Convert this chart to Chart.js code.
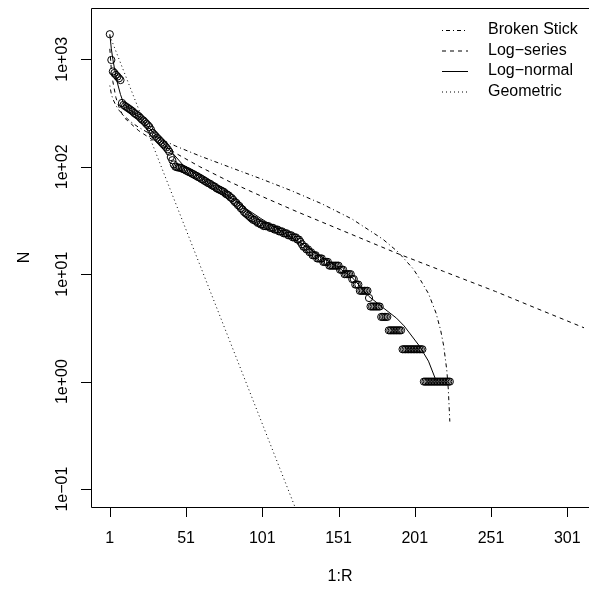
<!DOCTYPE html>
<html>
<head>
<meta charset="utf-8">
<script src="https://cdn.jsdelivr.net/npm/chart.js@4.4.1/dist/chart.umd.min.js"></script>
<style>
  html, body { margin: 0; padding: 0; background: #fff; }
</style>
</head>
<body>
<canvas id="radChart" width="589" height="591"></canvas>
<script>
// rank-abundance data
var xTicks = [1, 51, 101, 151, 201, 251, 301];
var yTicks = [0.1, 1, 10, 100, 1000];
var yTickLabels = ['1e\u221201', '1e+00', '1e+01', '1e+02', '1e+03'];

// observed abundance by rank (1..224)
var abundance = [
  1710, 985, 770, 745, 715, 690, 665, 640, 392, 376,
  367, 359, 351, 343, 335, 327, 316, 309, 302, 295,
  285, 275, 269, 260, 251, 243, 234, 221, 207, 200,
  193, 186, 180, 174, 168, 162, 157, 151, 145, 138,
  123, 115, 105, 100, 99, 98, 98, 97, 95, 94,
  92, 91, 89, 88, 86, 85, 83, 82, 80, 79,
  77, 76, 74, 73, 71, 70, 69, 67, 66, 65,
  63, 62, 61, 60, 59, 58, 56, 55, 54, 52,
  51, 49, 47, 46, 44, 43, 41, 40, 38, 37,
  36, 35, 34, 33, 32, 32, 31, 30, 30, 29,
  29, 28, 28, 28, 28, 27, 27, 27, 26, 26,
  26, 25, 25, 25, 24, 24, 24, 23, 23, 23,
  22, 22, 22, 21, 21, 20, 19, 18, 18, 17,
  17, 16, 16, 15, 15, 15, 14, 14, 14, 14,
  13, 13, 13, 13, 12, 12, 12, 12, 12, 12,
  12, 11, 11, 11, 10, 10, 10, 10, 10, 9,
  9, 8, 8, 8, 7, 7, 7, 7, 7, 7,
  6, 5, 5, 5, 5, 5, 5, 5, 4, 4,
  4, 4, 4, 3, 3, 3, 3, 3, 3, 3,
  3, 3, 2, 2, 2, 2, 2, 2, 2, 2,
  2, 2, 2, 2, 2, 2, 1, 1, 1, 1,
  1, 1, 1, 1, 1, 1, 1, 1, 1, 1,
  1, 1, 1, 1
];

// fitted models, sampled along the rank axis
var bsRank = [1, 2, 3, 5, 7, 10, 15, 20, 30, 44, 60, 80, 100, 120, 140, 160, 180, 190, 200, 205, 210, 215, 218, 220, 222, 223, 224];
var bsN    = [569, 474, 427, 371, 336, 300, 260, 232, 193, 156, 126, 98.6, 77.3, 59.9, 45.2, 32.5, 21.2, 16.1, 11.2, 8.7, 6.6, 4.33, 3.0, 2.14, 1.28, 0.85, 0.425];

var lsRank = [1, 2, 3, 5, 7, 10, 15, 20, 30, 44, 60, 80, 100, 124, 150, 189, 220, 254, 280, 312, 320];
var lsN    = [1250, 800, 620, 440, 360, 290, 250, 216, 174, 134, 100, 72, 53.5, 38, 26.7, 15.7, 10.6, 6.9, 4.86, 3.17, 2.85];

var lnRank = [1, 2, 3, 4, 5, 6, 8, 10, 15, 20, 30, 40, 50, 60, 70, 80, 90, 100, 110, 120, 130, 140, 150, 160, 171, 180, 189, 194, 204, 210, 215];
var lnN    = [1710, 1250, 1000, 830, 700, 600, 470, 390, 330, 290, 205, 145, 100, 80, 64, 52, 41, 33, 27, 22, 18, 14.5, 11.8, 9.3, 6.2, 4.9, 3.9, 3.3, 2.15, 1.55, 1.02];

var geRank = [1, 123];
var geN    = [1656, 0.065];

var legendLabels = ['Broken Stick', 'Log\u2212series', 'Log\u2212normal', 'Geometric'];
var legendDash = [[1, 3, 4, 3], [4, 4], [], [1, 3]];

var FONT = '"Liberation Sans", Arial, Helvetica, sans-serif';

function pairs(xs, ys) { return xs.map(function (x, i) { return { x: x, y: ys[i] }; }); }

function lineSet(label, xs, ys, dash) {
  return {
    type: 'line', label: label, data: pairs(xs, ys),
    borderColor: '#000', borderWidth: 1, borderDash: dash,
    pointRadius: 0, fill: false, tension: 0
  };
}

var rAxes = {
  id: 'rAxes',
  afterDraw: function (chart) {
    var ctx = chart.ctx, a = chart.chartArea, xs = chart.scales.x, ys = chart.scales.y;
    ctx.save();
    ctx.strokeStyle = '#000';
    ctx.lineWidth = 1;
    ctx.setLineDash([]);
    ctx.beginPath();
    ctx.moveTo(chart.width + 2, a.top + 0.5);
    ctx.lineTo(a.left + 0.5, a.top + 0.5);
    ctx.lineTo(a.left + 0.5, a.bottom + 0.5);
    ctx.lineTo(chart.width + 2, a.bottom + 0.5);
    xTicks.forEach(function (v) {
      var px = Math.round(xs.getPixelForValue(v)) + 0.5;
      ctx.moveTo(px, a.bottom); ctx.lineTo(px, a.bottom + 10);
    });
    yTicks.forEach(function (v) {
      var py = Math.round(ys.getPixelForValue(v)) + 0.5;
      ctx.moveTo(a.left, py); ctx.lineTo(a.left - 10, py);
    });
    ctx.stroke();

    ctx.fillStyle = '#000';
    ctx.font = '16px ' + FONT;
    ctx.textAlign = 'center';
    ctx.textBaseline = 'middle';
    xTicks.forEach(function (v) { ctx.fillText(String(v), xs.getPixelForValue(v), 539); });
    ctx.fillText('1:R', (a.left + chart.width) / 2, 577);
    yTicks.forEach(function (v, i) {
      ctx.save();
      ctx.translate(63, ys.getPixelForValue(v));
      ctx.rotate(-Math.PI / 2);
      ctx.fillText(yTickLabels[i], 0, 0);
      ctx.restore();
    });
    ctx.save();
    ctx.translate(25, (a.top + a.bottom) / 2);
    ctx.rotate(-Math.PI / 2);
    ctx.fillText('N', 0, 0);
    ctx.restore();

    // legend, top right, no frame
    var rowY = [30, 50.5, 71, 91.5];
    ctx.textAlign = 'left';
    legendLabels.forEach(function (t, i) {
      ctx.beginPath();
      ctx.setLineDash(legendDash[i]);
      ctx.moveTo(442, rowY[i] + 0.5); ctx.lineTo(468, rowY[i] + 0.5);
      ctx.stroke();
      ctx.fillText(t, 488, rowY[i]);
    });
    ctx.restore();
  }
};

new Chart(document.getElementById('radChart'), {
  type: 'scatter',
  data: {
    datasets: [
      {
        type: 'scatter', label: 'N',
        data: abundance.map(function (v, i) { return { x: i + 1, y: v }; }),
        pointStyle: 'circle', pointRadius: 3.6, pointBorderWidth: 1,
        pointBorderColor: '#000', pointBackgroundColor: 'rgba(0,0,0,0)'
      },
      lineSet('Broken Stick', bsRank, bsN, [1, 3, 4, 3]),
      lineSet('Log-series', lsRank, lsN, [4, 4]),
      lineSet('Log-normal', lnRank, lnN, []),
      lineSet('Geometric', geRank, geN, [1, 3])
    ]
  },
  options: {
    responsive: false,
    animation: false,
    devicePixelRatio: 1,
    layout: { padding: { left: 91, top: 8, right: 0, bottom: 84 } },
    plugins: { legend: { display: false }, tooltip: { enabled: false } },
    scales: {
      x: { type: 'linear', min: -11.34, max: 312, display: false },
      y: { type: 'logarithmic', min: 0.0681, max: 2999, display: false }
    }
  },
  plugins: [rAxes]
});
</script>
</body>
</html>
